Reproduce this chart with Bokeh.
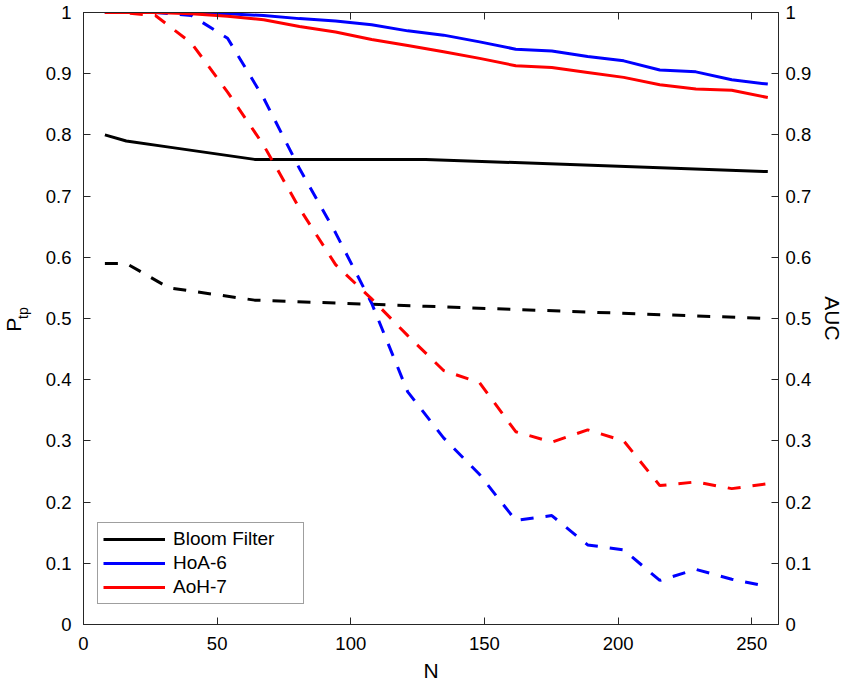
import math
from bokeh.plotting import figure
from bokeh.layouts import row
from bokeh.models import (LinearAxis, FixedTicker, CustomJSTickFormatter, Range1d,
                          Legend, LegendItem)
from bokeh.core.properties import value
from bokeh.embed import file_html
from bokeh.resources import INLINE

# ---- data ----
N_bloom = [8, 16, 32, 64, 128, 256]
bloom_ptp = [0.80, 0.79, 0.78, 0.76, 0.76, 0.74]
bloom_auc = [0.59, 0.59, 0.55, 0.53, 0.52, 0.50]

N_sketch = [8, 13.5, 26.9, 40.4, 53.9, 67.4, 80.8, 94.3, 107.8, 121.3, 134.7,
            148.2, 161.7, 175.2, 188.6, 202.1, 215.6, 229.1, 242.5, 256]
hoa_ptp = [1.0, 1.0, 1.0, 1.0, 0.998, 0.995, 0.99, 0.986, 0.98, 0.97, 0.963,
           0.952, 0.94, 0.937, 0.928, 0.921, 0.906, 0.903, 0.89, 0.883]
hoa_auc = [1.0, 1.0, 1.0, 0.995, 0.958, 0.86, 0.745, 0.64, 0.525, 0.38, 0.305,
           0.245, 0.17, 0.178, 0.13, 0.122, 0.072, 0.09, 0.074, 0.062]
aoh_ptp = [1.0, 1.0, 1.0, 0.998, 0.994, 0.988, 0.977, 0.968, 0.956, 0.946, 0.936,
           0.925, 0.913, 0.91, 0.902, 0.894, 0.882, 0.875, 0.873, 0.861]
aoh_auc = [1.0, 1.0, 0.995, 0.95, 0.87, 0.783, 0.68, 0.588, 0.532, 0.472, 0.415,
           0.395, 0.315, 0.298, 0.318, 0.30, 0.227, 0.233, 0.222, 0.230]

x_ticks = [0, 50, 100, 150, 200, 250]
y_ticks = [0, 0.1, 0.2, 0.3, 0.4, 0.5, 0.6, 0.7, 0.8, 0.9, 1.0]
series_labels = ["Bloom Filter", "HoA-6", "AoH-7"]

FONT = "Liberation Sans"
AX = "#262626"
W_LAB = 40  # width of the strip holding the y-axis title

p = figure(width=855 - W_LAB, height=688, output_backend="svg", toolbar_location=None,
           x_range=Range1d(0, 260), y_range=Range1d(0, 1),
           min_border_left=83 - W_LAB, min_border_right=77, min_border_top=12,
           min_border_bottom=64, x_axis_location=None, y_axis_location=None)
p.grid.visible = False
p.outline_line_color = AX
p.outline_line_width = 1
p.background_fill_color = "white"
p.border_fill_color = "white"

fmt = CustomJSTickFormatter(code="return Number(tick.toFixed(1)).toString();")


def style(ax, labels=True):
    ax.axis_line_color = AX
    ax.major_tick_line_color = AX
    ax.major_tick_in = 7
    ax.major_tick_out = 0
    ax.minor_tick_line_color = None
    ax.major_label_text_font = FONT
    ax.major_label_text_font_size = "18.5px"
    ax.major_label_text_color = "black" if labels else None
    ax.axis_label_text_font = FONT
    ax.axis_label_text_font_size = "21px"
    ax.axis_label_text_font_style = "normal"
    ax.axis_label_text_color = "black"


xb = LinearAxis(ticker=FixedTicker(ticks=x_ticks), axis_label="N")
style(xb)
xb.major_label_standoff = 12
xb.axis_label_standoff = 6
p.add_layout(xb, "below")

xt = LinearAxis(ticker=FixedTicker(ticks=x_ticks))
style(xt, labels=False)
p.add_layout(xt, "above")

yl = LinearAxis(ticker=FixedTicker(ticks=y_ticks), formatter=fmt)
style(yl)
yl.major_label_standoff = 12
p.add_layout(yl, "left")

yr = LinearAxis(ticker=FixedTicker(ticks=y_ticks), formatter=fmt, axis_label="AUC")
style(yr)
yr.major_label_standoff = 7
yr.axis_label_standoff = 7
p.add_layout(yr, "right")

DASH = "13 12"
r_b = p.line(N_bloom, bloom_ptp, line_color="black", line_width=3)
p.line(N_bloom, bloom_auc, line_color="black", line_width=3, line_dash=DASH)
r_h = p.line(N_sketch, hoa_ptp, line_color="#0000ff", line_width=3)
p.line(N_sketch, hoa_auc, line_color="#0000ff", line_width=3, line_dash=DASH)
r_a = p.line(N_sketch, aoh_ptp, line_color="#ff0000", line_width=3)
p.line(N_sketch, aoh_auc, line_color="#ff0000", line_width=3, line_dash=DASH)

legend = Legend(items=[LegendItem(label=series_labels[0], renderers=[r_b]),
                       LegendItem(label=series_labels[1], renderers=[r_h]),
                       LegendItem(label=series_labels[2], renderers=[r_a])],
                location=(14, 20))
legend.glyph_width = 62
legend.glyph_height = 18
legend.label_height = 18
legend.label_width = 125
legend.label_standoff = 8
legend.spacing = 2
legend.padding = 5
legend.margin = 0
legend.border_line_color = "#404040"
legend.border_line_width = 1
legend.background_fill_color = "white"
legend.background_fill_alpha = 1
legend.label_text_font = FONT
legend.label_text_font_size = "19px"
legend.label_text_color = "black"
p.add_layout(legend, "center")

# strip on the left holding the rotated y-axis title P_tp (pixel coordinates)
lab = figure(width=W_LAB, height=688, output_backend="svg", toolbar_location=None,
             x_range=Range1d(0, W_LAB), y_range=Range1d(0, 688),
             min_border=0, x_axis_location=None, y_axis_location=None)
lab.grid.visible = False
lab.outline_line_color = None
lab.border_fill_color = "white"
lab.background_fill_color = "white"
lab.text(x=[13], y=[337], text=["P"], angle=math.pi / 2,
         text_font=value(FONT), text_font_size="21px", text_color="black",
         text_align="center", text_baseline="alphabetic")
lab.text(x=[22], y=[350], text=["tp"], angle=math.pi / 2,
         text_font=value(FONT), text_font_size="14px", text_color="black",
         text_align="center", text_baseline="alphabetic")

layout = row(lab, p, spacing=0)
open("out.html", "w").write(file_html(layout, INLINE))
